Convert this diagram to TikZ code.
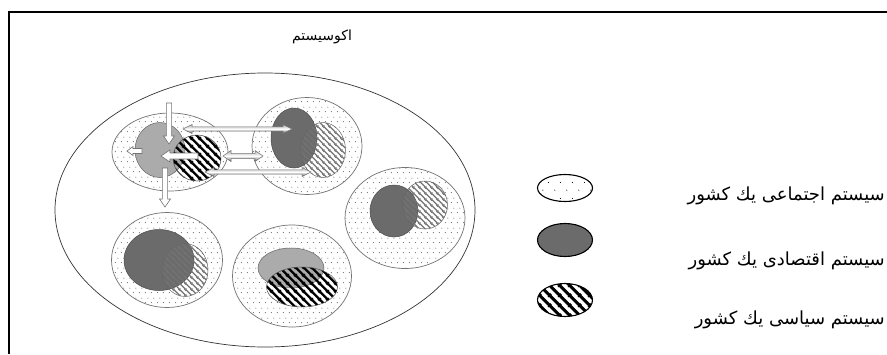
\documentclass[tikz,border=0pt]{standalone}
\usepackage{fontspec}
\newfontfamily\arabicfont[Script=Arabic]{DejaVu Sans}
\TeXXeTstate=1
\usetikzlibrary{patterns,patterns.meta,shapes.geometric,calc}

\pgfdeclarepattern{
  name=sdots, type=uncolored,
  bottom left={\pgfpoint{0pt}{0pt}}, top right={\pgfpoint{6pt}{10pt}},
  tile size={\pgfpoint{6pt}{10pt}},
  code={\pgfpathcircle{\pgfpoint{1.5pt}{2.5pt}}{0.5pt}\pgfpathcircle{\pgfpoint{4.5pt}{7.5pt}}{0.5pt}\pgfusepath{fill}}
}
\pgfdeclarepattern{
  name=ldots, type=uncolored,
  bottom left={\pgfpoint{0pt}{0pt}}, top right={\pgfpoint{12pt}{16pt}},
  tile size={\pgfpoint{12pt}{16pt}},
  code={\pgfpathcircle{\pgfpoint{3pt}{4pt}}{0.6pt}\pgfpathcircle{\pgfpoint{9pt}{12pt}}{0.6pt}\pgfusepath{fill}}
}
\pgfdeclarepattern{
  name=thickhatch, type=uncolored,
  bottom left={\pgfpoint{0pt}{0pt}}, top right={\pgfpoint{8pt}{8pt}},
  tile size={\pgfpoint{8pt}{8pt}},
  code={\pgfsetlinewidth{2.6pt}
    \pgfpathmoveto{\pgfpoint{-1pt}{9pt}}\pgfpathlineto{\pgfpoint{9pt}{-1pt}}
    \pgfpathmoveto{\pgfpoint{-1pt}{1pt}}\pgfpathlineto{\pgfpoint{1pt}{-1pt}}
    \pgfpathmoveto{\pgfpoint{7pt}{9pt}}\pgfpathlineto{\pgfpoint{9pt}{7pt}}
    \pgfusepath{stroke}}
}
\pgfdeclarepattern{
  name=thinhatch, type=uncolored,
  bottom left={\pgfpoint{0pt}{0pt}}, top right={\pgfpoint{6pt}{6pt}},
  tile size={\pgfpoint{6pt}{6pt}},
  code={\pgfsetlinewidth{1.3pt}
    \pgfpathmoveto{\pgfpoint{-1pt}{7pt}}\pgfpathlineto{\pgfpoint{7pt}{-1pt}}
    \pgfpathmoveto{\pgfpoint{-1pt}{1pt}}\pgfpathlineto{\pgfpoint{1pt}{-1pt}}
    \pgfpathmoveto{\pgfpoint{5pt}{7pt}}\pgfpathlineto{\pgfpoint{7pt}{5pt}}
    \pgfusepath{stroke}}
}
\pgfdeclarepattern{
  name=legendhatch, type=uncolored,
  bottom left={\pgfpoint{0pt}{0pt}}, top right={\pgfpoint{10pt}{10pt}},
  tile size={\pgfpoint{10pt}{10pt}},
  code={\pgfsetlinewidth{3.2pt}
    \pgfpathmoveto{\pgfpoint{-1pt}{11pt}}\pgfpathlineto{\pgfpoint{11pt}{-1pt}}
    \pgfpathmoveto{\pgfpoint{-1pt}{1pt}}\pgfpathlineto{\pgfpoint{1pt}{-1pt}}
    \pgfpathmoveto{\pgfpoint{9pt}{11pt}}\pgfpathlineto{\pgfpoint{11pt}{9pt}}
    \pgfusepath{stroke}}
}

% single block arrow: #1 style, #2 from, #3 to, #4 half shaft, #5 half head, #6 head length
\newcommand\mysarrow[6]{%
  \coordinate (hh) at ($(#3)!#6!(#2)$);
  \draw[#1] ($(#2)!#4!90:(#3)$) -- ($(hh)!#4!-90:(#2)$) -- ($(hh)!#5!-90:(#2)$) -- (#3)
    -- ($(hh)!#5!90:(#2)$) -- ($(hh)!#4!90:(#2)$) -- ($(#2)!#4!-90:(#3)$) -- cycle;}
% double block arrow
\newcommand\mydarrow[6]{%
  \coordinate (hb) at ($(#3)!#6!(#2)$);
  \coordinate (ha) at ($(#2)!#6!(#3)$);
  \draw[#1] (#2) -- ($(ha)!#5!90:(#3)$) -- ($(ha)!#4!90:(#3)$) -- ($(hb)!#4!-90:(#2)$)
    -- ($(hb)!#5!-90:(#2)$) -- (#3) -- ($(hb)!#5!90:(#2)$) -- ($(hb)!#4!90:(#2)$)
    -- ($(ha)!#4!-90:(#3)$) -- ($(ha)!#5!-90:(#3)$) -- cycle;}

\begin{document}
\begin{tikzpicture}[x=1pt,y=-1pt,
  social/.style={ellipse, inner sep=0pt, draw=black!55, line width=0.7pt, pattern=sdots, pattern color=black},
  ecodark/.style={ellipse, inner sep=0pt, draw=black!70, line width=0.5pt, fill=black!58},
  ecolight/.style={ellipse, inner sep=0pt, draw=black!60, line width=0.5pt, fill=black!33},
  polthick/.style={ellipse, inner sep=0pt, draw=black!70, line width=0.5pt, pattern=thickhatch, pattern color=black},
  polthin/.style={ellipse, inner sep=0pt, draw=black!60, line width=0.5pt, pattern=thinhatch, pattern color=black!55},
  whitearrow/.style={draw=black!55, line width=0.6pt, fill=white, line join=miter},
  greyarrow/.style={draw=black!55, line width=0.5pt, top color=black!30, bottom color=black!65, middle color=white},
  legendbox/.style={ellipse, inner sep=0pt, draw=black, line width=1.1pt, minimum width=55pt},
  label/.style={font=\arabicfont\fontsize{18}{21}\selectfont, inner sep=0pt},
  titlelabel/.style={font=\arabicfont\fontsize{14}{17}\selectfont, inner sep=0pt}
]
\useasboundingbox (0,0) rectangle (887,354);
\fill[white] (0,0) rectangle (887,354);

% frame
\coordinate (fTL) at (9,12);
\coordinate (fTR) at (887,12);
\coordinate (fBL) at (9,354);
\draw[line width=1.8pt] (fTR) -- (fTL) -- (fBL);

% title and ecosystem
\node[titlelabel] (title) at (322,37) {\beginR اکوسیستم\endR};
\node[ellipse, inner sep=0pt, draw=black!80, line width=0.7pt, minimum width=420pt, minimum height=274pt] (eco) at (265,210) {};

% group 1 (top left)
\node[social, minimum width=116pt, minimum height=78pt] (g1) at (170,152) {};
\fill[white] (197,158) ellipse (24 and 23);
\node[ecolight, minimum width=50pt, minimum height=55pt] (e1) at (160,150) {};
\node[polthick, minimum width=48pt, minimum height=46pt] (p1) at (197,158) {};

% group 2 (top right)
\node[social, minimum width=110pt, minimum height=97pt] (g2) at (307,146) {};
\fill[white] (323,150) ellipse (22.5 and 27.5);
\node[ecodark, minimum width=46pt, minimum height=60pt] (e2) at (294,138) {};
\node[polthin, minimum width=45pt, minimum height=55pt] (p2) at (323,150) {};

% group 3 (right middle)
\node[social, minimum width=120pt, minimum height=101pt] (g3) at (405,218) {};
\fill[white] (425,205) ellipse (22.5 and 24);
\node[ecodark, minimum width=48pt, minimum height=52pt] (e3) at (394,211) {};
\node[polthin, minimum width=45pt, minimum height=48pt] (p3) at (425,205) {};

% group 4 (bottom left)
\node[social, minimum width=111pt, minimum height=95pt] (g4) at (167,260) {};
\fill[white] (185,270) ellipse (23 and 26.5);
\node[ecodark, minimum width=70pt, minimum height=61pt] (e4) at (159,260) {};
\node[polthin, minimum width=46pt, minimum height=53pt] (p4) at (185,270) {};

% group 5 (bottom middle)
\node[social, minimum width=119pt, minimum height=102pt] (g5) at (292,276) {};
\fill[white] (302,287) ellipse (35.5 and 20);
\node[ecolight, minimum width=66pt, minimum height=40pt] (e5) at (291,268) {};
\node[polthick, minimum width=71pt, minimum height=40pt] (p5) at (302,287) {};

% arrow end points
\coordinate (a1s) at (169,103); \coordinate (a1e) at (169,144);
\coordinate (a2s) at (142,151); \coordinate (a2e) at (127,151);
\coordinate (a3s) at (165,168); \coordinate (a3e) at (165,207);
\coordinate (a4s) at (198,156); \coordinate (a4e) at (161,156);
\coordinate (d1s) at (223,156); \coordinate (d1e) at (263,156);
\coordinate (d2s) at (183,129); \coordinate (d2e) at (292,129);
\coordinate (d3s) at (205,172); \coordinate (d3e) at (311,172);

% arrows
\mysarrow{whitearrow}{a1s}{a1e}{2.6pt}{5.5pt}{8pt}
\mysarrow{whitearrow}{a2s}{a2e}{2.5pt}{4.5pt}{6pt}
\mysarrow{whitearrow}{a3s}{a3e}{2.6pt}{5.5pt}{8pt}
\mysarrow{whitearrow}{a4s}{a4e}{3pt}{6pt}{9pt}
\mydarrow{greyarrow}{d1s}{d1e}{2.5pt}{5.5pt}{8pt}
\mydarrow{greyarrow}{d2s}{d2e}{2.2pt}{4.5pt}{9pt}
\mydarrow{greyarrow}{d3s}{d3e}{2.2pt}{4.5pt}{9pt}

% legend
\node[legendbox, minimum height=27pt, pattern=ldots, pattern color=black] (l1) at (565,188) {};
\node[legendbox, minimum height=33pt, fill=black!58] (l2) at (565,240) {};
\node[legendbox, minimum height=33pt, pattern=legendhatch, pattern color=black] (l3) at (565,300) {};
\node[label, anchor=east] (t1) at (885,196) {\beginR سیستم اجتماعی یك کشور\endR};
\node[label, anchor=east] (t2) at (885,261) {\beginR سیستم اقتصادی یك کشور\endR};
\node[label, anchor=east] (t3) at (885,320) {\beginR سیستم سیاسی یك کشور\endR};
\end{tikzpicture}
\end{document}
